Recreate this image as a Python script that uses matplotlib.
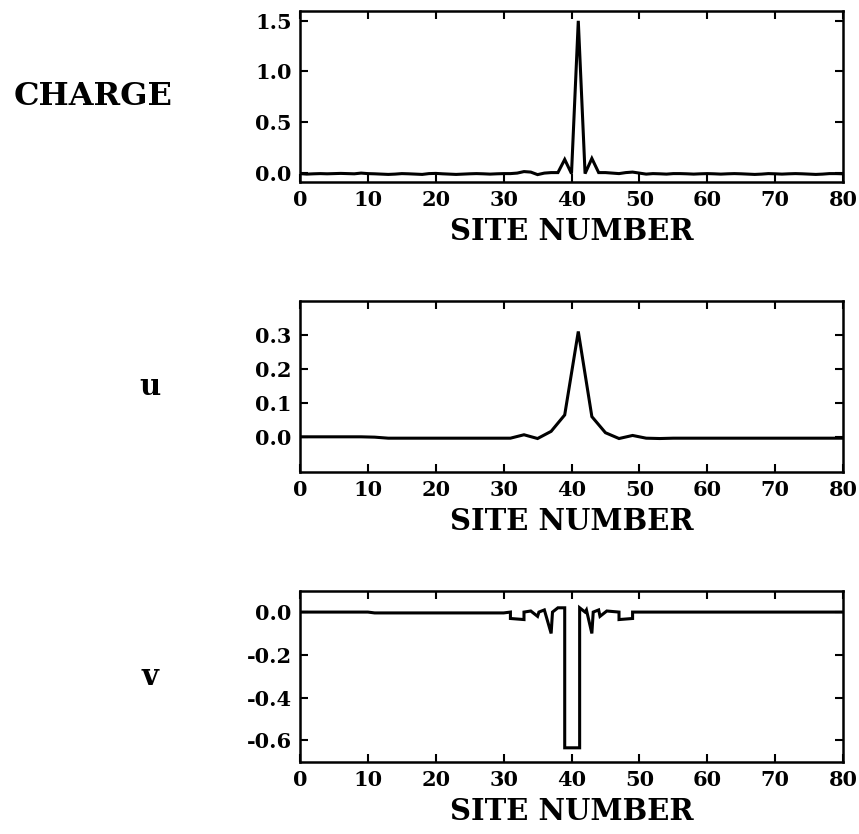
import numpy as np
import matplotlib.pyplot as plt

# charge on sites 0..80
charge_sites = list(range(0, 81))
charge = [-0.01, -0.015, -0.012, -0.01, -0.012, -0.01, -0.008, -0.01, -0.012, -0.005,
          -0.01, -0.012, -0.015, -0.018, -0.015, -0.01, -0.012, -0.015, -0.018, -0.01,
          -0.008, -0.012, -0.015, -0.018, -0.015, -0.012, -0.01, -0.012, -0.015, -0.012,
          -0.01, -0.01, -0.005, 0.01, 0.005, -0.02, -0.005, 0.0, 0.0, 0.13,
          -0.01, 1.5, -0.01, 0.14, 0.0, 0.0, -0.005, -0.01, 0.0, 0.005,
          -0.005, -0.015, -0.01, -0.012, -0.015, -0.01, -0.01, -0.012, -0.015, -0.012,
          -0.01, -0.012, -0.015, -0.012, -0.01, -0.012, -0.015, -0.018, -0.015, -0.01,
          -0.012, -0.015, -0.012, -0.01, -0.012, -0.015, -0.018, -0.015, -0.01, -0.01, -0.012]

# u is drawn on odd sites
u_sites = [0] + list(range(1, 80, 2)) + [80]
u = [0.002, 0.002, 0.002, 0.002, 0.002, 0.002, 0.001, -0.002, -0.002, -0.002, -0.002,
     -0.002, -0.002, -0.002, -0.002, -0.002, -0.002, 0.008, -0.003, 0.018, 0.066,
     0.31, 0.061, 0.014, -0.003, 0.006, -0.002, -0.003, -0.002, -0.002, -0.002,
     -0.002, -0.002, -0.002, -0.002, -0.002, -0.002, -0.002, -0.002, -0.002, -0.002, -0.002]

# v path
v_x = [0, 10, 11, 30, 31, 31, 33, 33, 34, 35, 35.2, 36, 37, 37.2, 38, 39, 39,
       41.2, 41.2, 42, 42.2, 43, 43.2, 44, 44.2, 45, 45.2, 47, 47, 49, 49, 50, 80]
v = [0.0, 0.0, -0.004, -0.004, 0.0, -0.03, -0.035, 0.0, 0.005, -0.02, 0.0, 0.01, -0.1, 0.0, 0.02, 0.02, -0.635,
     -0.635, 0.02, 0.0, 0.01, -0.1, 0.0, 0.01, -0.02, 0.0, 0.005, 0.0, -0.035, -0.03, 0.0, 0.0, 0.0]

plt.rcParams['font.family'] = 'DejaVu Serif'
plt.rcParams['font.weight'] = 'bold'

fig = plt.figure(figsize=(8.59, 8.34), dpi=100)

left = 300 / 859
width = 543 / 859
height = 171 / 834
bottoms = [1 - 181.7 / 834, 1 - 471.7 / 834, 1 - 761.7 / 834]

panels = [
    (charge_sites, charge, (-0.09, 1.6), [0.0, 0.5, 1.0, 1.5], ['0.0', '0.5', '1.0', '1.5'], 'CHARGE', 93, 23),
    (u_sites, u, (-0.1, 0.4), [0.0, 0.1, 0.2, 0.3], ['0.0', '0.1', '0.2', '0.3'], 'u', 150, 21),
    (v_x, v, (-0.7, 0.1), [-0.6, -0.4, -0.2, 0.0], ['-0.6', '-0.4', '-0.2', '0.0'], 'v', 150, 21),
]

for (xs, ys, ylim, yt, ytl, name, lx, fs), b in zip(panels, bottoms):
    ax = fig.add_axes([left, b, width, height])
    ax.plot(xs, ys, color='black', lw=2.2, solid_joinstyle='miter')
    ax.set_xlim(0, 80)
    ax.set_ylim(*ylim)
    ax.set_xticks(range(0, 81, 10))
    ax.set_yticks(yt)
    ax.set_yticklabels(ytl)
    ax.tick_params(direction='in', length=6, width=1.5, top=True, right=True,
                   labelsize=15, pad=6)
    for lab in ax.get_xticklabels() + ax.get_yticklabels():
        lab.set_fontweight('bold')
    for s in ax.spines.values():
        s.set_linewidth(1.8)
    ax.set_xlabel('SITE NUMBER', fontsize=21, fontweight='bold', labelpad=5)
    yc = b + height / 2
    fig.text(lx / 859, yc, name, fontsize=fs, fontweight='bold', ha='center', va='center')

fig.savefig('out.png', dpi=100)
